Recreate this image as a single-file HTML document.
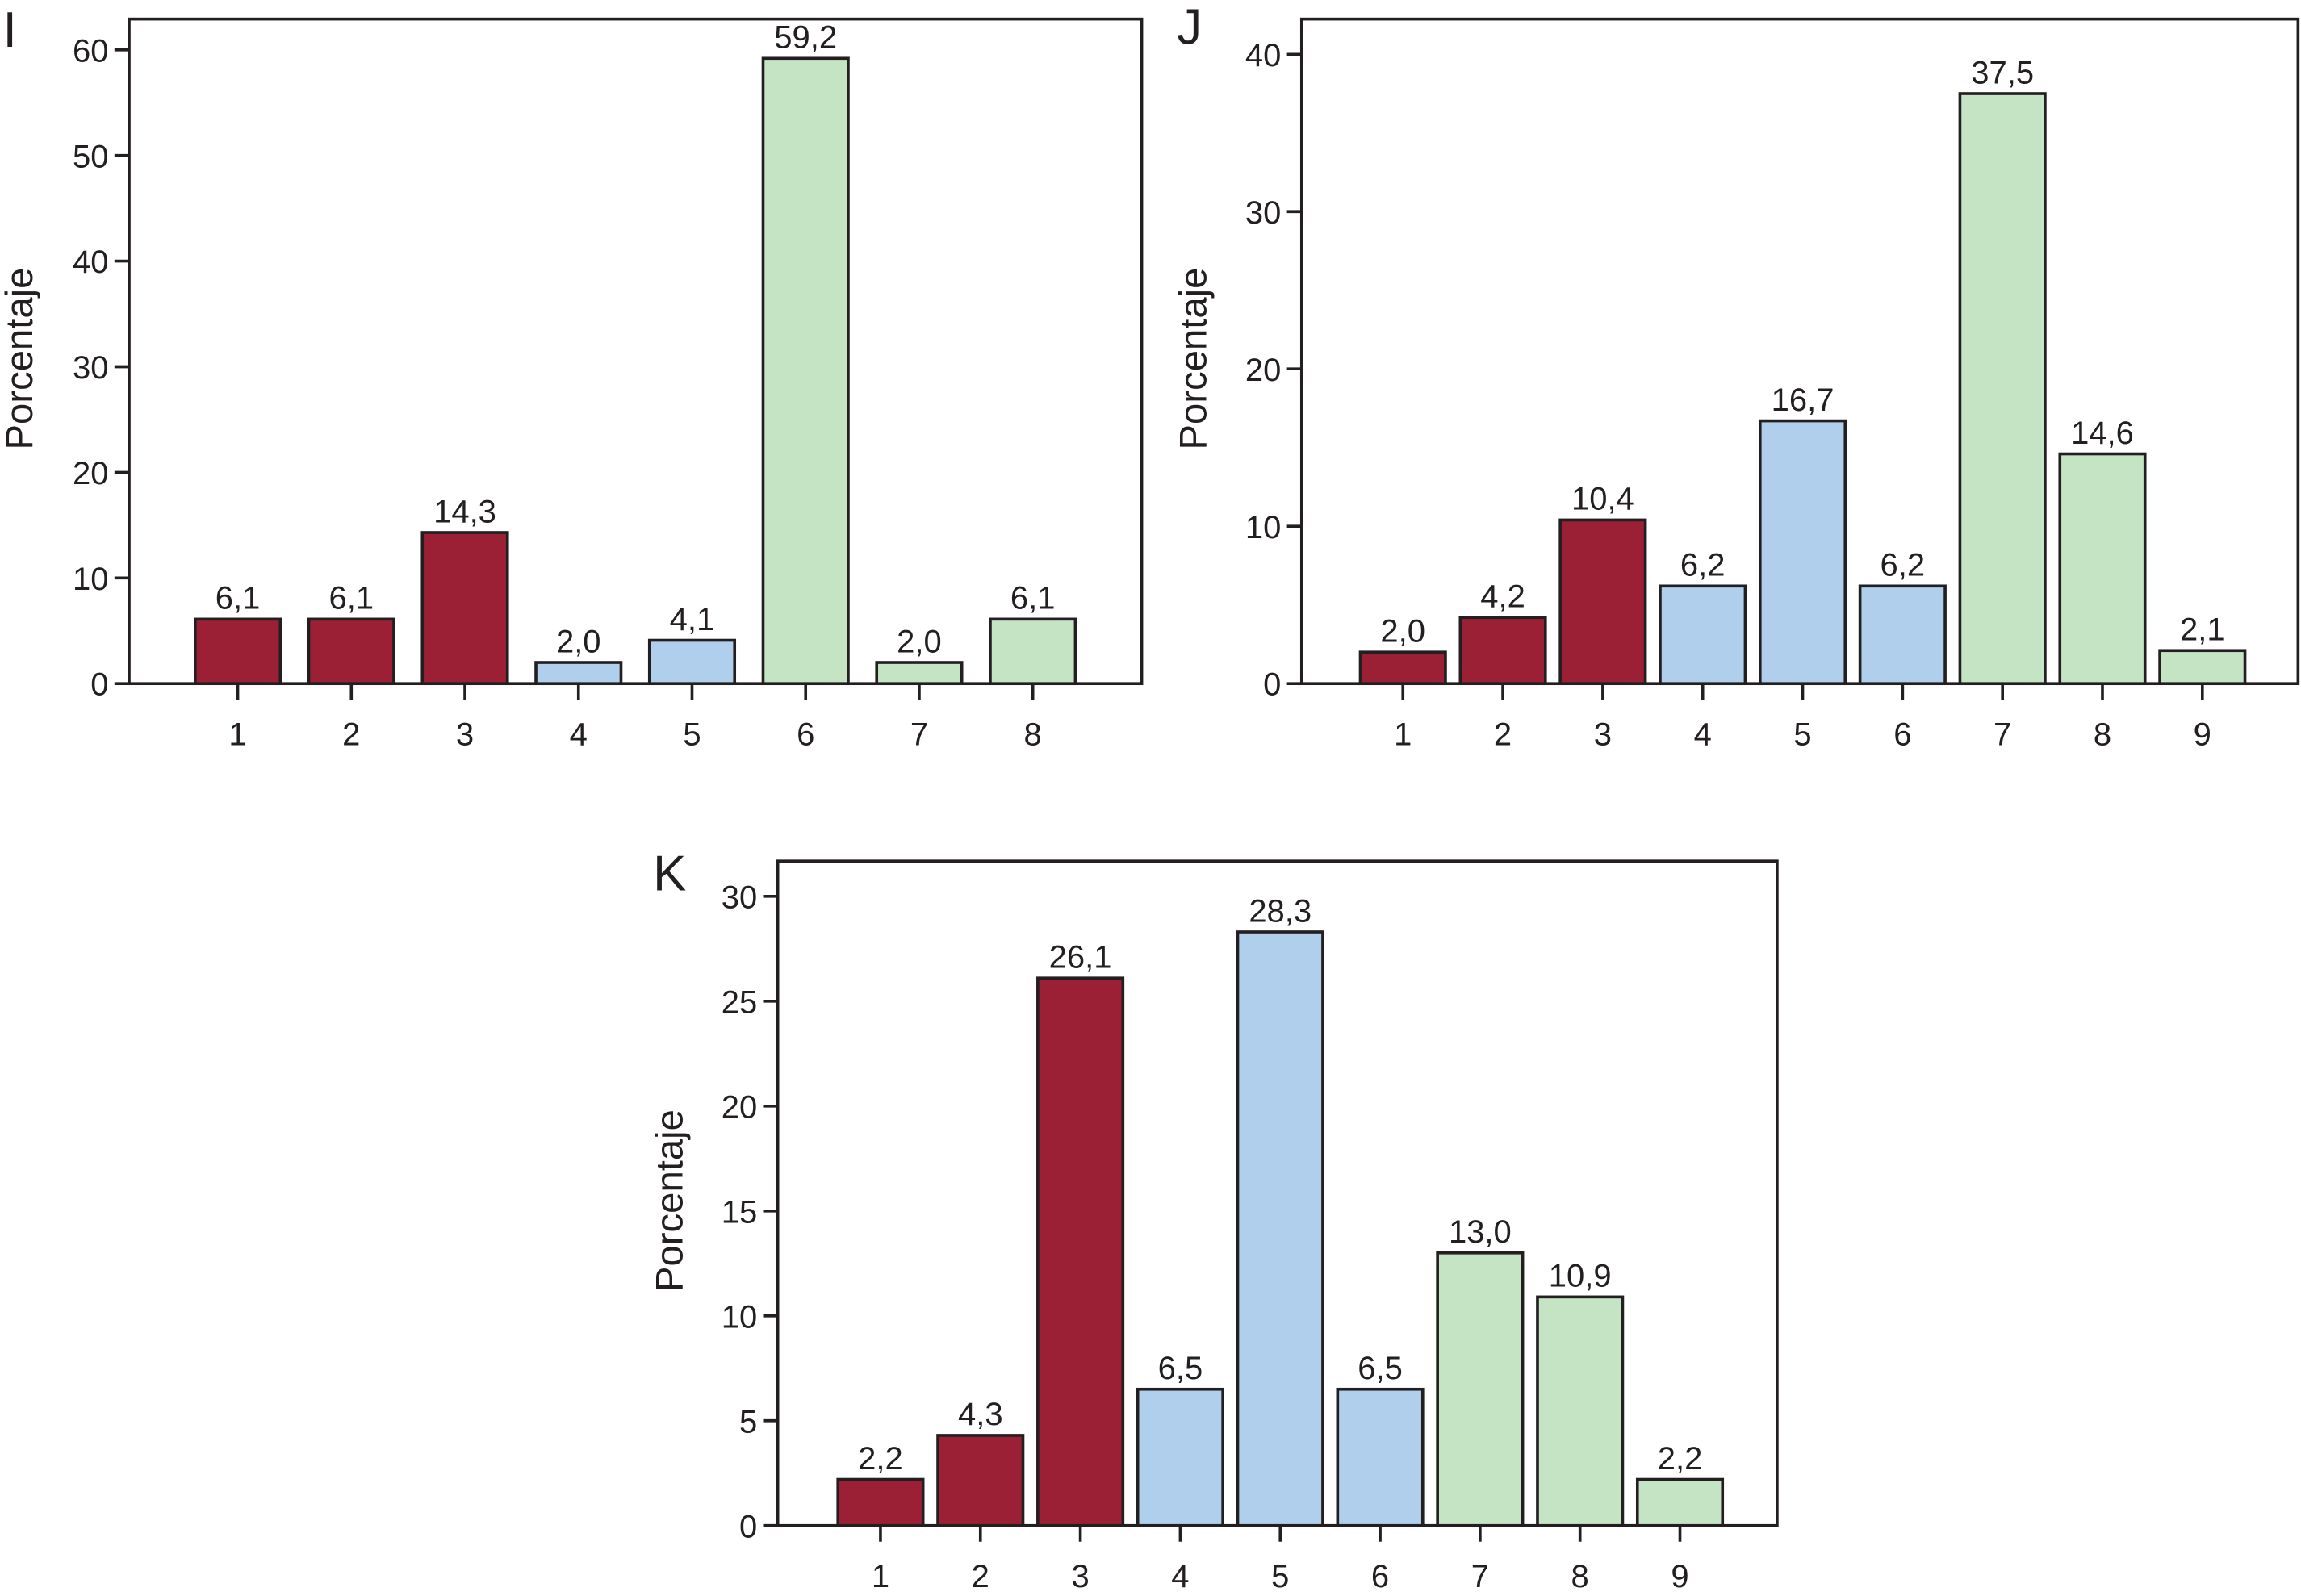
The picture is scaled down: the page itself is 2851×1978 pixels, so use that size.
<!DOCTYPE html>
<html><head><meta charset="utf-8"><style>
html,body{margin:0;padding:0;background:#fff}
svg{display:block}
text{font-family:"Liberation Sans",sans-serif;fill:#231f20}
</style></head><body>
<svg id="fig" width="2851" height="1978" viewBox="0 0 1568 1088" preserveAspectRatio="none" xmlns="http://www.w3.org/2000/svg"></svg>
<script>
const catsI=[1,2,3,4,5,6,7,8];
const valsI=[6.1,6.1,14.3,2.0,4.1,59.2,2.0,6.1];
const groupI=['r','r','r','b','b','g','g','g'];
const ticksI=[0,10,20,30,40,50,60];
const catsJ=[1,2,3,4,5,6,7,8,9];
const valsJ=[2.0,4.2,10.4,6.2,16.7,6.2,37.5,14.6,2.1];
const groupJ=['r','r','r','b','b','b','g','g','g'];
const ticksJ=[0,10,20,30,40];
const catsK=[1,2,3,4,5,6,7,8,9];
const valsK=[2.2,4.3,26.1,6.5,28.3,6.5,13.0,10.9,2.2];
const groupK=['r','r','r','b','b','b','g','g','g'];
const ticksK=[0,5,10,15,20,25,30];

const svg=document.getElementById('fig');
const NS='http://www.w3.org/2000/svg';
const colors={r:'#9b2036',b:'#b0cfec',g:'#c5e4c4'};
function el(tag,attrs,parent){const e=document.createElementNS(NS,tag);for(const k in attrs)e.setAttribute(k,attrs[k]);parent.appendChild(e);return e;}
function fmt(v){return v.toFixed(1).replace('.',',');}

function chart(id,letter,cats,vals,groups,ticks,box){
  const g=el('g',{},svg);
  
  
  const ymax=box.ymax;
  const y=v=>box.bottom-(v/ymax)*(box.bottom-box.y0top);
  const x=i=>box.x1+i*box.step;
  const f=el('rect',{x:box.left,y:box.top,width:box.right-box.left,height:box.bottom-box.top,fill:'none',stroke:'#231f20','stroke-width':2},g);
  
  
  ticks.forEach(t=>{
    const l=el('line',{x1:box.left-10,x2:box.left,y1:y(t),y2:y(t),stroke:'#231f20','stroke-width':2},g);
    
    
    const tx=el('text',{x:box.left-14,y:y(t)+8,'text-anchor':'end','font-size':22},g);
    tx.textContent=t;
    
    
  });
  cats.forEach((c,i)=>{
    const cx=x(i),v=vals[i];
    const r=el('rect',{x:cx-29,y:y(v),width:58,height:box.bottom-y(v),fill:colors[groups[i]],stroke:'#231f20','stroke-width':2},g);
    
    
    const lb=el('text',{x:cx,y:y(v)-7,'text-anchor':'middle','font-size':22},g);
    lb.textContent=fmt(v);
    
    
    const tk=el('line',{x1:cx,x2:cx,y1:box.bottom,y2:box.bottom+11,stroke:'#231f20','stroke-width':2},g);
    
    
    const tl=el('text',{x:cx,y:box.bottom+42,'text-anchor':'middle','font-size':22},g);
    tl.textContent=c;
    
    
  });
  const yt=el('text',{x:0,y:0,'text-anchor':'middle','font-size':26,transform:`translate(${box.ylab},${(box.top+box.bottom)/2+5}) rotate(-90)`},g);
  yt.textContent='Porcentaje';
  
  
  const pl=el('text',{x:box.lx,y:box.ly,'font-size':34},g);
  pl.textContent=letter;
  
  
}
chart('i','I',catsI,valsI,groupI,ticksI,{left:88,right:778,top:13,bottom:466,y0top:34,ymax:60,x1:162,step:77.4,ylab:22,lx:2,ly:32});
chart('j','J',catsJ,valsJ,groupJ,ticksJ,{left:887,right:1566,top:13,bottom:466,y0top:37,ymax:40,x1:956,step:68.1,ylab:822,lx:802,ly:30});
chart('k','K',catsK,valsK,groupK,ticksK,{left:530,right:1211,top:587,bottom:1040,y0top:611,ymax:30,x1:600,step:68.1,ylab:465,lx:445,ly:607});
</script>
</body></html>
